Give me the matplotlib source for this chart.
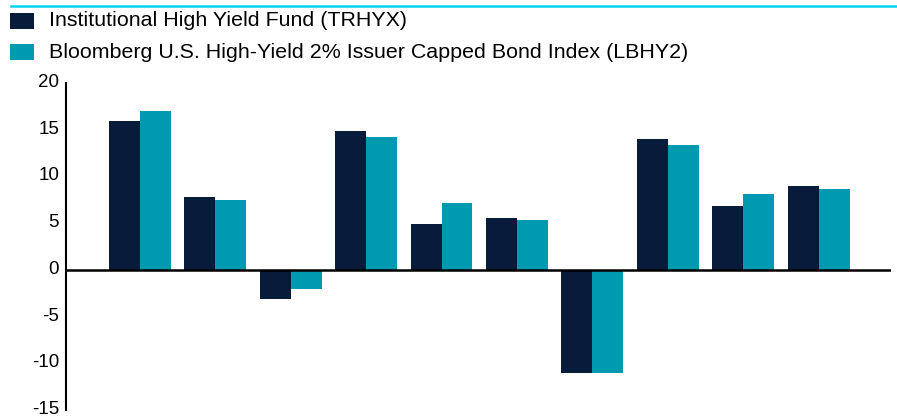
import matplotlib
matplotlib.use("Agg")
import matplotlib.pyplot as plt
from matplotlib.patches import Rectangle
from matplotlib.lines import Line2D
from matplotlib.transforms import ScaledTranslation
import numpy as np

plt.rcParams['font.family'] = ['Liberation Sans', 'DejaVu Sans']

series_names = ["Institutional High Yield Fund (TRHYX)",
                "Bloomberg U.S. High-Yield 2% Issuer Capped Bond Index (LBHY2)"]
fund = [15.9, 7.8, -3.1, 14.9, 4.9, 5.6, -11.0, 14.0, 6.8, 9.0]
index = [17.0, 7.5, -2.0, 14.2, 7.2, 5.3, -11.0, 13.4, 8.1, 8.7]
yticks = [-15, -10, -5, 0, 5, 10, 15, 20]
colors = ["#081b3a", "#009ab0"]

W, H = 897, 416
fig = plt.figure(figsize=(W / 100, H / 100), dpi=100)
ax = fig.add_axes([66 / W, 1 - 410 / H, (891 - 66) / W, (410 - 83) / H])

x = np.arange(len(fund))
bw = 0.41
ax.bar(x - bw / 2, fund, width=bw, color=colors[0], linewidth=0)
ax.bar(x + bw / 2, index, width=bw, color=colors[1], linewidth=0)
ax.axhline(0, color="black", linewidth=1.8, zorder=3)

ax.set_xlim(-0.98, 9.96)
ax.set_ylim(-15, 20)
ax.set_yticks(yticks)
ax.set_yticklabels([str(v) for v in yticks])
ax.set_xticks([])
ax.tick_params(axis="y", length=0, pad=5, labelsize=13.5, colors="black")
off = ScaledTranslation(0, 2.5 / 100, fig.dpi_scale_trans)
for lab in ax.get_yticklabels():
    lab.set_transform(lab.get_transform() + off)
for s in ["top", "right", "bottom"]:
    ax.spines[s].set_visible(False)
ax.spines["left"].set_linewidth(1.5)
ax.spines["left"].set_color("black")

# top cyan rule
fig.add_artist(Line2D([11 / W, 1], [1 - 6 / H, 1 - 6 / H], color="#00d4ee",
                      linewidth=1.8, transform=fig.transFigure))

# legend (manual)
rows = [(13, 29, 26), (44, 60, 58)]
for (top, bot, base), name, c in zip(rows, series_names, colors):
    fig.add_artist(Rectangle((10 / W, 1 - bot / H), 24 / W, (bot - top) / H,
                             facecolor=c, edgecolor="none", transform=fig.transFigure))
    fig.text(49 / W, 1 - base / H, name, fontsize=15.4, va="baseline", ha="left", color="black")

fig.savefig("out.png", dpi=100)
